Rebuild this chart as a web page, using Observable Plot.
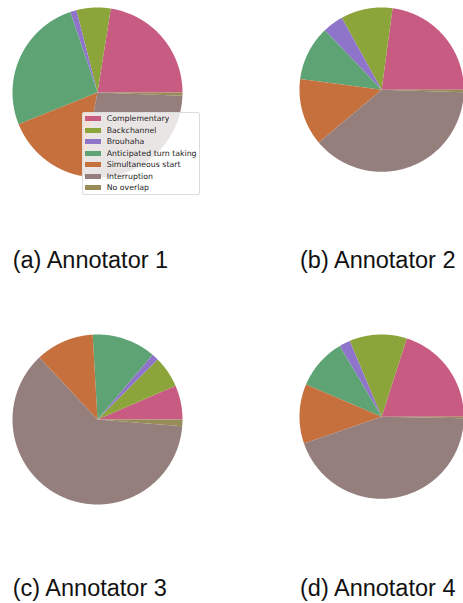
<!DOCTYPE html>
<html>
<head>
<meta charset="utf-8">
<script src="https://cdn.jsdelivr.net/npm/d3@7"></script>
<script src="https://cdn.jsdelivr.net/npm/@observablehq/plot@0.6"></script>
<style>
  html, body { margin: 0; padding: 0; background: #fff; overflow: hidden; }
  #root { position: relative; width: 463px; height: 603px; overflow: hidden; }
  .pie { position: absolute; }
  .pie svg { display: block; overflow: visible; }
  .cap { position: absolute; font-family: "Liberation Sans", Arial, sans-serif; font-size: 23.5px; line-height: 23.5px; color: #111; white-space: nowrap; }
  .lgbox { position: absolute; box-sizing: border-box; border: 1px solid #dcdcdc; border-radius: 2px; background: rgba(255,255,255,0.8); padding: 0 0 0 2px; }
  .lgbox .lg-swatches { font-family: "DejaVu Sans", sans-serif !important; font-size: 7.8px !important; margin: 0 !important; color: #222; }
  .lgbox .lg-swatch { height: 11.5px; padding: 0 !important; margin: 0 !important; display: flex; align-items: center; }
  .lgbox .lg-swatch > svg { margin-right: 6px !important; }
</style>
</head>
<body>
<div id="root"></div>
<script>
const categories = ["Complementary", "Backchannel", "Brouhaha", "Anticipated turn taking", "Simultaneous start", "Interruption", "No overlap"];
const colors = ["#c85b81", "#8ca53b", "#8f75ca", "#5ea373", "#c6703d", "#947f7c", "#978c58"];
const annotator1 = [22.5, 6.5, 1.2, 25.9, 15.9, 27.4, 0.6];
const annotator2 = [22.9, 10.2, 4.1, 10.8, 13.2, 38.4, 0.5];
const annotator3 = [6.5, 6.0, 1.3, 12.1, 11.1, 61.75, 1.25];
const annotator4 = [20.1, 11.3, 2.2, 10.1, 11.7, 44.5, 0.3];
const titles = ["(a) Annotator 1", "(b) Annotator 2", "(c) Annotator 3", "(d) Annotator 4"];

const series = [annotator1, annotator2, annotator3, annotator4];
const layout = [
  {left: 11.7, top: 7.3, capLeft: 12.7, capTop: 249.1},
  {left: 298.7, top: 7.3, capLeft: 300, capTop: 249.1},
  {left: 11.7, top: 334.3, capLeft: 12.7, capTop: 577.4},
  {left: 298.7, top: 334.3, capLeft: 300, capTop: 577.4}
];
const R = 85;

function slicePoints(values) {
  const total = d3.sum(values);
  const pts = [];
  let start = 0;
  values.forEach((v, i) => {
    const a0 = start / total * 2 * Math.PI;
    const a1 = (start + v) / total * 2 * Math.PI;
    const cat = categories[i];
    pts.push({cat, x: 0, y: 0});
    const n = Math.max(2, Math.ceil((a1 - a0) / (Math.PI / 360)));
    for (let k = 0; k <= n; k++) {
      const a = a0 + (a1 - a0) * k / n;
      pts.push({cat, x: Math.cos(a), y: Math.sin(a)});
    }
    pts.push({cat, x: 0, y: 0});
    start += v;
  });
  return pts;
}

const root = document.getElementById("root");

series.forEach((values, i) => {
  const L = layout[i];
  const chart = Plot.plot({
    width: 2 * R,
    height: 2 * R,
    margin: 0,
    x: {domain: [-1, 1], axis: null},
    y: {domain: [-1, 1], axis: null},
    color: {domain: categories, range: colors},
    marks: [
      Plot.line(slicePoints(values), {x: "x", y: "y", z: "cat", fill: "cat", stroke: "none"})
    ]
  });
  const wrap = document.createElement("div");
  wrap.className = "pie";
  wrap.style.left = L.left + "px";
  wrap.style.top = L.top + "px";
  wrap.appendChild(chart);
  root.appendChild(wrap);

  const cap = document.createElement("div");
  cap.className = "cap";
  cap.style.left = L.capLeft + "px";
  cap.style.top = L.capTop + "px";
  cap.textContent = titles[i];
  root.appendChild(cap);
});

// legend (on the first pie)
const lgbox = document.createElement("div");
lgbox.className = "lgbox";
lgbox.style.left = "81.7px";
lgbox.style.top = "112px";
lgbox.style.width = "118px";
lgbox.style.height = "82.5px";
const legend = Plot.legend({
  legend: "swatches",
  color: {type: "categorical", domain: categories, range: colors},
  columns: 1,
  swatchWidth: 16,
  swatchHeight: 5,
  className: "lg"
});
lgbox.appendChild(legend);
root.appendChild(lgbox);
</script>
</body>
</html>
